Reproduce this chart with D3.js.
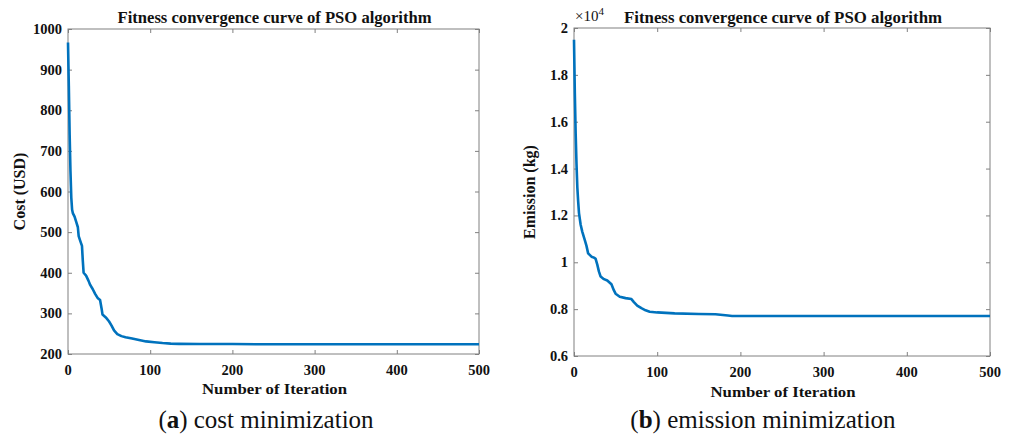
<!DOCTYPE html>
<html><head><meta charset="utf-8">
<script src="https://cdn.jsdelivr.net/npm/d3@7"></script>
<style>
body{margin:0;background:#fff;}
svg{display:block;}
</style></head><body>
<svg id="c" width="1014" height="435" style="font-family:'Liberation Serif','Times New Roman',Times,serif"></svg>
<script>
// ---- data ----
const costIter = [0,1,2,3,4,5,6,8,10,12,13,15,17,18,19,22,25,27,30,33,36,39,41,42,46,50,53,56,60,65,70,78,85,95,105,115,125,135,160,200,230,300,400,500];
const costVal  = [967,860,740,650,585,555,546,538,525,512,490,478,466,430,400,393,380,370,360,348,338,333,310,297,290,280,270,258,249,244,241,238,235,231,229,227,225.5,225,224.8,224.5,224,224,224,224];
const emIter = [0,1,2,3,4,5,6,8,10,13,15,17,21,24,26,28,30,32,36,40,45,48,50,55,62,69,72,76,81,86,91,100,121,150,170,185,190,250,350,500];
const emVal  = [1.95,1.72,1.55,1.42,1.32,1.26,1.21,1.16,1.13,1.095,1.07,1.038,1.024,1.02,1.015,0.99,0.96,0.939,0.928,0.922,0.906,0.88,0.866,0.853,0.847,0.843,0.83,0.815,0.804,0.795,0.789,0.786,0.782,0.779,0.778,0.773,0.771,0.771,0.771,0.771];
const xTicks = [0,100,200,300,400,500];
const costTicks = [200,300,400,500,600,700,800,900,1000];
const emTicks = [0.6,0.8,1,1.2,1.4,1.6,1.8,2];
const titleText = "Fitness convergence curve of PSO algorithm";
const xLabel = "Number of Iteration";
const captionLetters = ["a","b"];
const captionTexts = [" cost minimization"," emission minimization"];

const SERIF = "'Liberation Serif','Times New Roman',Times,serif";
const svg = d3.select("#c");
const lineColor = "#0072BD";
const axisColor = "#808080";

function txt(sel){ return sel.attr("font-family",SERIF).attr("fill","#111"); }

function panel(opt){
  const x = d3.scaleLinear().domain([0,500]).range([opt.x0,opt.x1]);
  const y = d3.scaleLinear().domain(opt.ydom).range([opt.y1,opt.y0]);
  const g = svg.append("g");
  g.append("rect").attr("x",opt.x0).attr("y",opt.y0).attr("width",opt.x1-opt.x0).attr("height",opt.y1-opt.y0)
    .attr("fill","none").attr("stroke",axisColor).attr("stroke-width",1);
  const bx = g.append("g").attr("transform",`translate(0,${opt.y1})`)
    .call(d3.axisBottom(x).tickValues(xTicks).tickSize(-4).tickFormat(""));
  const tx = g.append("g").attr("transform",`translate(0,${opt.y0})`)
    .call(d3.axisTop(x).tickValues(xTicks).tickSize(-4).tickFormat(""));
  const ly = g.append("g").attr("transform",`translate(${opt.x0},0)`)
    .call(d3.axisLeft(y).tickValues(opt.yticks).tickSize(-4).tickFormat(""));
  const ry = g.append("g").attr("transform",`translate(${opt.x1},0)`)
    .call(d3.axisRight(y).tickValues(opt.yticks).tickSize(-4).tickFormat(""));
  [bx,tx,ly,ry].forEach(a=>{a.select(".domain").remove();a.selectAll("line").attr("stroke",axisColor);});
  txt(g.selectAll(".xl").data(xTicks).join("text").attr("x",d=>x(d)).attr("y",opt.y1+opt.xlabOff)
    .attr("text-anchor","middle").attr("font-size",14.5).attr("font-weight","bold").text(d=>d));
  txt(g.selectAll(".yl").data(opt.yticks).join("text").attr("x",opt.x0-6).attr("y",d=>y(d)+5)
    .attr("text-anchor","end").attr("font-size",14.5).attr("font-weight","bold").text(opt.yfmt));
  txt(g.append("text").attr("x",(opt.x0+opt.x1)/2+1).attr("y",23).attr("text-anchor","middle")
    .attr("font-size",16).attr("font-weight","bold").attr("textLength",opt.titleW).attr("lengthAdjust","spacingAndGlyphs").text(titleText));
  txt(g.append("text").attr("x",(opt.x0+opt.x1)/2+1).attr("y",opt.y1+opt.xtitOff).attr("text-anchor","middle")
    .attr("font-size",15.5).attr("font-weight","bold").attr("textLength",145).attr("lengthAdjust","spacingAndGlyphs").text(xLabel));
  txt(g.append("text").attr("transform",`translate(${opt.ylabX},${(opt.y0+opt.y1)/2}) rotate(-90)`).attr("text-anchor","middle")
    .attr("font-size",16).attr("font-weight","bold").text(opt.ylabel));
  const data = opt.iter.map((d,i)=>[d,opt.vals[i]]);
  g.append("path").datum(data).attr("fill","none").attr("stroke",lineColor).attr("stroke-width",2.6)
    .attr("stroke-linejoin","round")
    .attr("d",d3.line().x(d=>x(d[0])).y(d=>y(d[1])));
  return {x,y,g};
}

panel({x0:68,x1:479,y0:29,y1:354,ydom:[200,1000],yticks:costTicks,yfmt:d=>d,
  iter:costIter,vals:costVal,ylabel:"Cost (USD)",ylabX:25,xlabOff:21,xtitOff:40,titleW:314});
panel({x0:574,x1:990,y0:28,y1:356,ydom:[0.6,2],yticks:emTicks,yfmt:d=>d3.format("~g")(d),
  iter:emIter,vals:emVal,ylabel:"Emission (kg)",ylabX:535,xlabOff:21,xtitOff:41,titleW:318});
const ex = txt(svg.append("text").attr("x",575).attr("y",21).attr("font-size",15));
ex.append("tspan").text("\u00d710");
ex.append("tspan").attr("dy",-6).attr("font-size",11).text("4");

const capX = [266,763];
captionLetters.forEach((c,i)=>{
  const t = svg.append("text").attr("x",capX[i]).attr("y",428).attr("text-anchor","middle")
    .attr("font-size",25).attr("fill","#111").attr("font-family",SERIF);
  t.append("tspan").text("(");
  t.append("tspan").attr("font-weight","bold").text(c);
  t.append("tspan").text(")"+captionTexts[i]);
});
</script>
</body></html>
